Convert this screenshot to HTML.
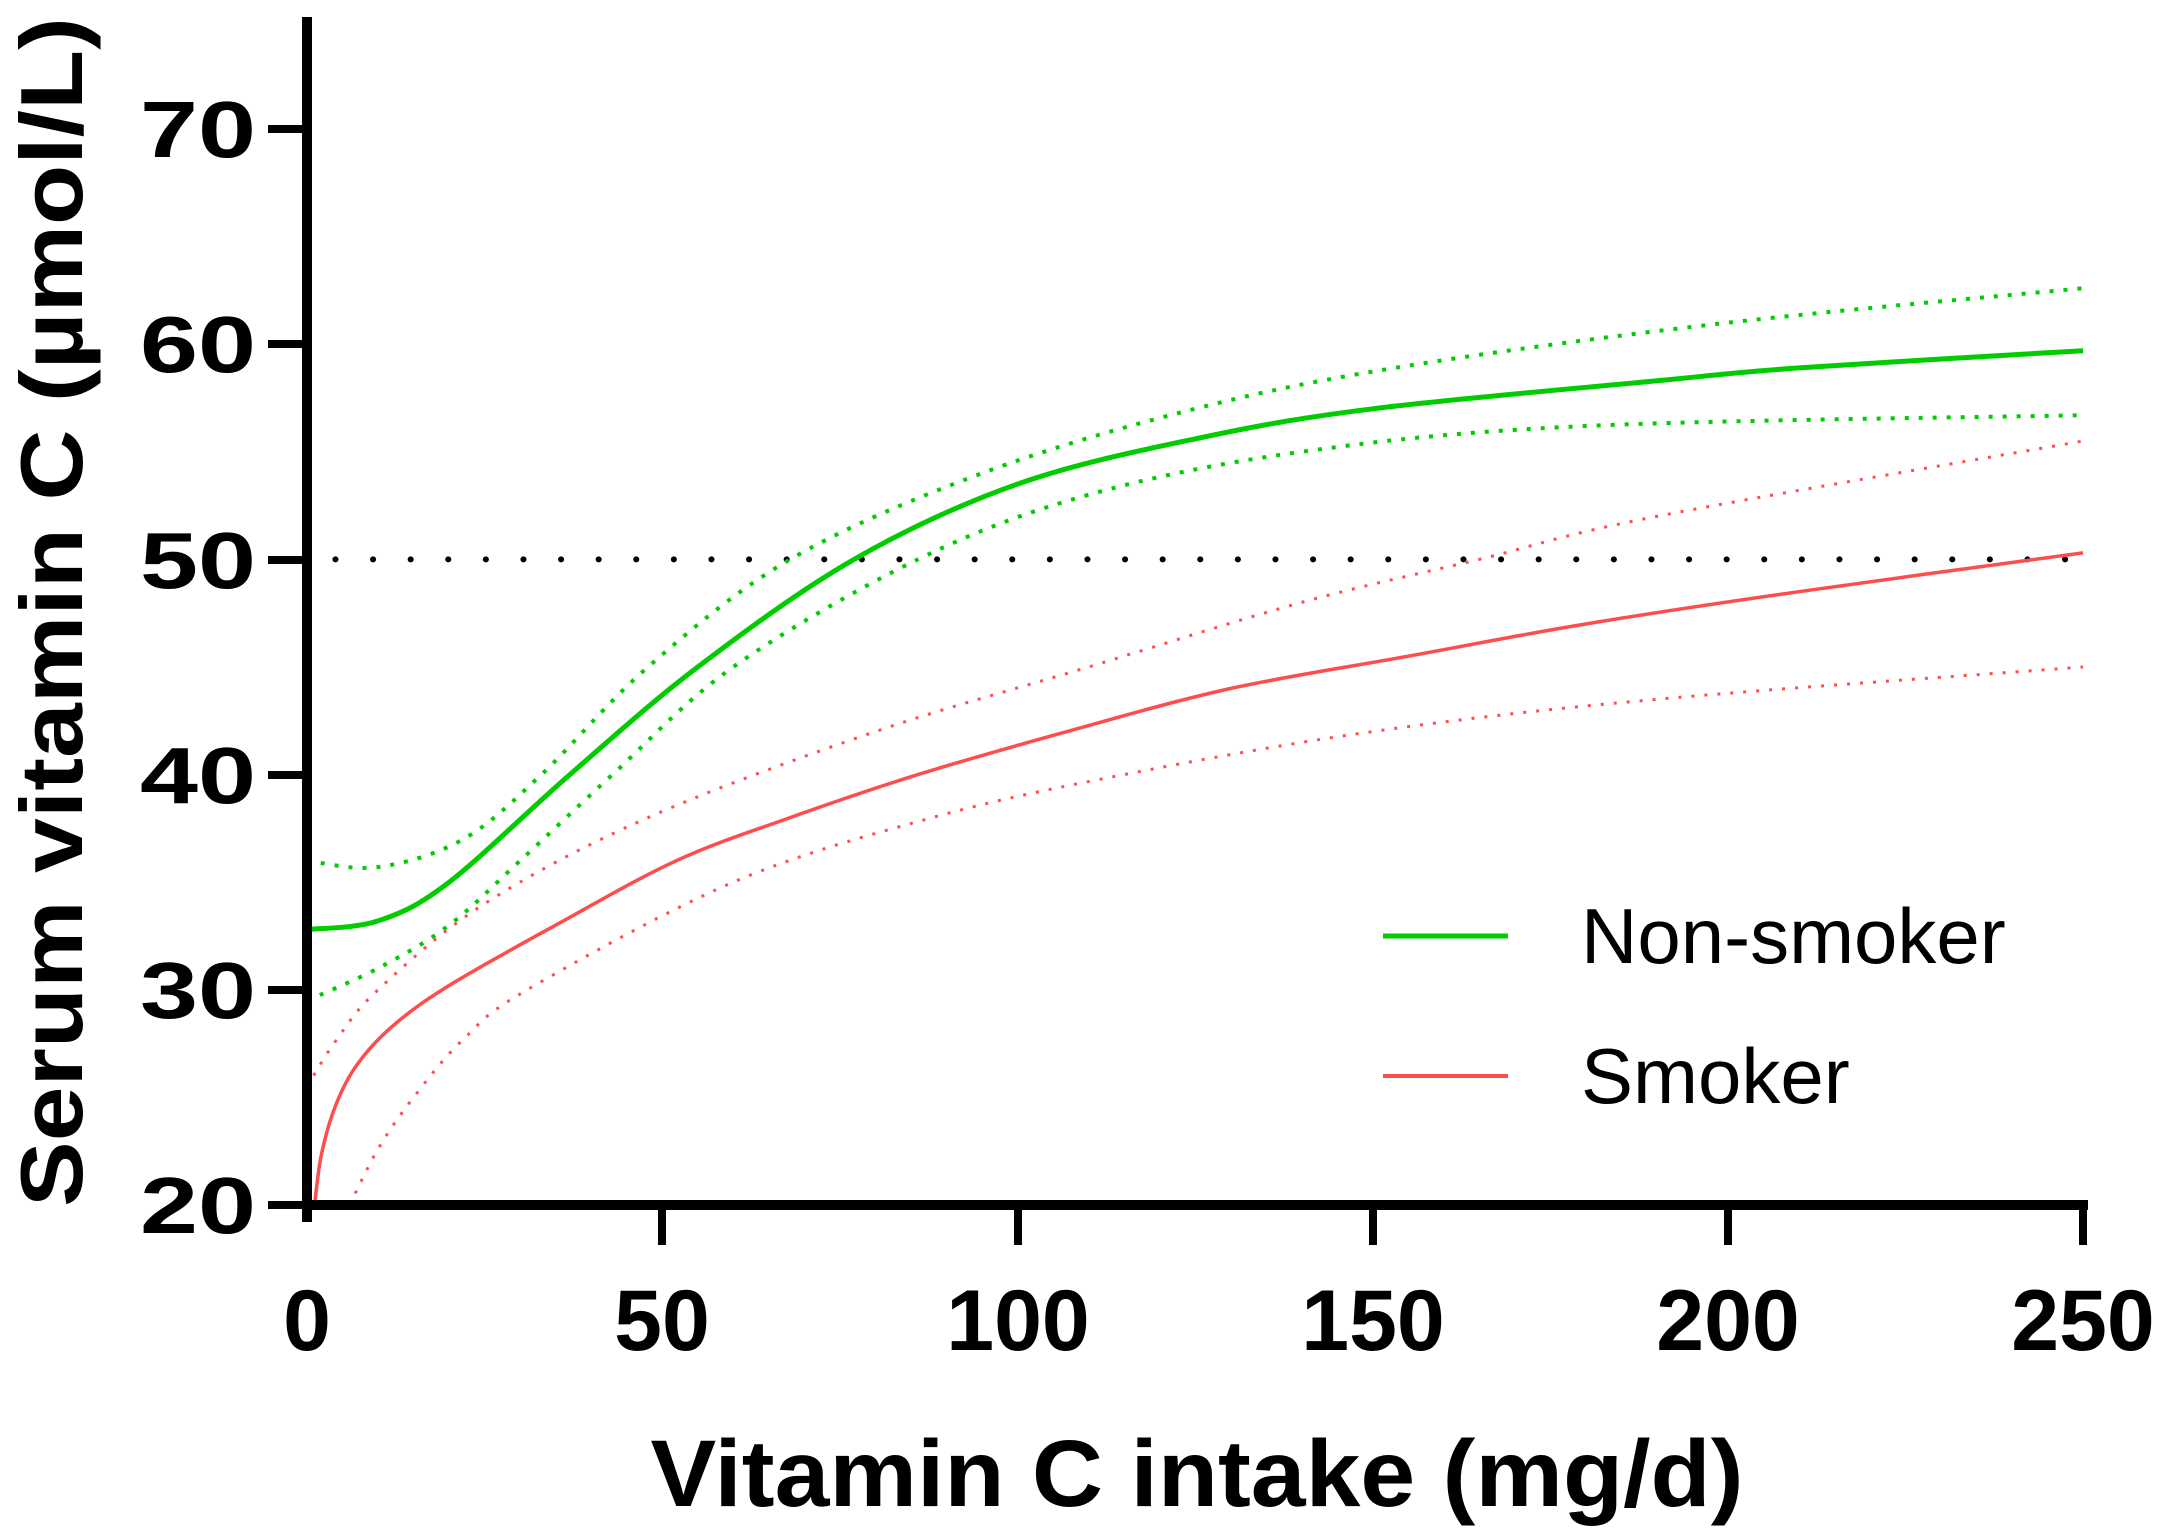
<!DOCTYPE html>
<html><head><meta charset="utf-8"><style>
html,body{margin:0;padding:0;background:#fff;}
svg{display:block;}
</style></head><body>
<svg id="s" width="2169" height="1539" xmlns="http://www.w3.org/2000/svg" font-family="Liberation Sans, Arial, sans-serif">
<rect width="2169" height="1539" fill="#fff"/>
<g id="curves"></g>
<!-- axes -->
<line x1="307" y1="17" x2="307" y2="1222" stroke="#000" stroke-width="10"/>
<line x1="302" y1="1205" x2="2088" y2="1205" stroke="#000" stroke-width="10"/>
<g stroke="#000" stroke-width="8">
<line x1="268" y1="129" x2="307" y2="129"/>
<line x1="268" y1="344" x2="307" y2="344"/>
<line x1="268" y1="560" x2="307" y2="560"/>
<line x1="268" y1="775" x2="307" y2="775"/>
<line x1="268" y1="990" x2="307" y2="990"/>
<line x1="268" y1="1205" x2="307" y2="1205"/>
<line x1="662" y1="1205" x2="662" y2="1245"/>
<line x1="1018" y1="1205" x2="1018" y2="1245"/>
<line x1="1373" y1="1205" x2="1373" y2="1245"/>
<line x1="1728" y1="1205" x2="1728" y2="1245"/>
<line x1="2083" y1="1205" x2="2083" y2="1245"/>
</g>
<g font-weight="bold" font-size="80" text-anchor="end" fill="#000">
<text x="256" y="157" textLength="116" lengthAdjust="spacingAndGlyphs">70</text>
<text x="256" y="372" textLength="116" lengthAdjust="spacingAndGlyphs">60</text>
<text x="256" y="588" textLength="116" lengthAdjust="spacingAndGlyphs">50</text>
<text x="256" y="803" textLength="116" lengthAdjust="spacingAndGlyphs">40</text>
<text x="256" y="1018" textLength="116" lengthAdjust="spacingAndGlyphs">30</text>
<text x="256" y="1233" textLength="116" lengthAdjust="spacingAndGlyphs">20</text>
</g>
<g font-weight="bold" font-size="86" text-anchor="middle" fill="#000">
<text x="307" y="1350">0</text>
<text x="662" y="1350">50</text>
<text x="1018" y="1350">100</text>
<text x="1373" y="1350">150</text>
<text x="1728" y="1350">200</text>
<text x="2083" y="1350">250</text>
</g>
<text x="1197" y="1506" font-weight="bold" font-size="95" text-anchor="middle" textLength="1093" lengthAdjust="spacingAndGlyphs">Vitamin C intake (mg/d)</text>
<text transform="translate(82,612) rotate(-90)" font-weight="bold" font-size="88" text-anchor="middle" textLength="1190" lengthAdjust="spacingAndGlyphs">Serum vitamin C (µmol/L)</text>
<!-- legend -->
<line x1="1383" y1="936" x2="1508" y2="936" stroke="#00cc00" stroke-width="5"/>
<line x1="1383" y1="1076" x2="1508" y2="1076" stroke="#ff4d4d" stroke-width="4"/>
<text x="1581" y="963" font-size="78" fill="#000">Non-smoker</text>
<text x="1581" y="1103" font-size="78" fill="#000">Smoker</text>
</svg>
<script>
(function(){
var X=function(v){return 307+v*7.104;}, Y=function(v){return 1635.4-v*21.52;};
function path(pts){
  var p=pts.map(function(a){return [X(a[0]),Y(a[1])];});
  var d="M"+p[0][0].toFixed(1)+","+p[0][1].toFixed(1);
  for(var i=0;i<p.length-1;i++){
    var p0=p[i-1]||p[i],p1=p[i],p2=p[i+1],p3=p[i+2]||p[i+1];
    var c1=[p1[0]+(p2[0]-p0[0])/6,p1[1]+(p2[1]-p0[1])/6];
    var c2=[p2[0]-(p3[0]-p1[0])/6,p2[1]-(p3[1]-p1[1])/6];
    d+="C"+c1[0].toFixed(1)+","+c1[1].toFixed(1)+" "+c2[0].toFixed(1)+","+c2[1].toFixed(1)+" "+p2[0].toFixed(1)+","+p2[1].toFixed(1);
  }
  return d;
}
var G="#00cc00",R="#ff4d4d";
var series=[
 [[[0,32.8],[10,33.2],[20,35],[37,40],[55,45],[77,50],[100,53.5],[125,55.6],[150,57],[190,58.3],[210,58.9],[250,59.7]],G,5,null],
 [[[0,36],[10,35.7],[22,37],[33,40],[48,45],[68,50],[95,54],[125,57],[155,59],[200,61],[250,62.6]],G,4,"4 10"],
 [[[0,29.5],[10,31],[20,33],[30,36],[43,40],[60,45],[86,50],[110,53],[140,55],[180,56.2],[250,56.7]],G,4,"4 10"],
 [[[1,19.8],[2,22.3],[4,24.6],[7,26.5],[12,28.3],[20,30.2],[35,33],[52,36],[68,38],[86,40],[107,42],[130,44],[155,45.5],[180,47],[210,48.5],[250,50.3]],R,3.5,null],
 [[[0,25.5],[4,27.6],[10,30],[25,34],[48,38],[80,42],[110,45],[140,48],[165,50],[190,52],[250,55.5]],R,3,"3 10"],
 [[[6,20],[10,22.6],[15,25],[22,27.7],[31,30],[60,35],[88,38],[115,40],[150,42],[190,43.5],[250,45]],R,3,"3 10"]
];
var g=document.getElementById("curves"),ns="http://www.w3.org/2000/svg";
var ln=document.createElementNS(ns,"line");
ln.setAttribute("x1",X(4));ln.setAttribute("x2",X(249));ln.setAttribute("y1",Y(50));ln.setAttribute("y2",Y(50));
ln.setAttribute("stroke","#000");ln.setAttribute("stroke-width","6");ln.setAttribute("stroke-linecap","round");
ln.setAttribute("stroke-dasharray","0.1 37.5");g.appendChild(ln);
series.forEach(function(s){
  var e=document.createElementNS(ns,"path");
  e.setAttribute("d",path(s[0]));e.setAttribute("fill","none");e.setAttribute("stroke",s[1]);
  e.setAttribute("stroke-width",s[2]);if(s[3])e.setAttribute("stroke-dasharray",s[3]);
  g.appendChild(e);
});
})();
</script>
</body></html>
